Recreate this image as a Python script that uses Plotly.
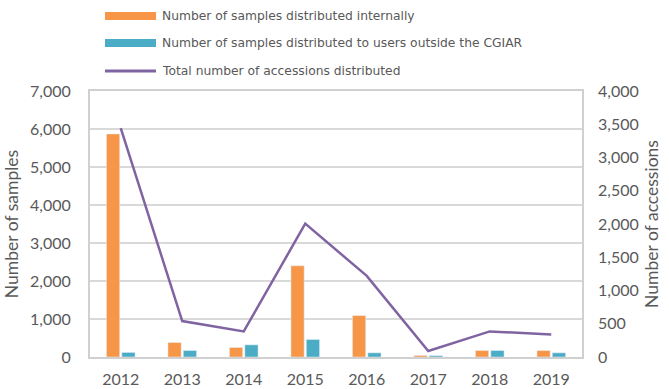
import plotly.graph_objects as go
from plotly.subplots import make_subplots

years = ["2012", "2013", "2014", "2015", "2016", "2017", "2018", "2019"]
internal_samples = [5870, 380, 250, 2400, 1090, 40, 170, 170]
external_samples = [120, 170, 320, 460, 110, 35, 170, 110]
accessions_total = [3440, 540, 385, 2005, 1220, 90, 385, 340]

legend_labels = [
    "Number of samples distributed internally",
    "Number of samples distributed to users outside the CGIAR",
    "Total number of accessions distributed",
]

ORANGE = "#F79646"
BLUE = "#4BACC6"
PURPLE = "#8064A2"
TEXT = "#595959"
GRID = "#D9D9D9"
FRAME = "#D0D0D0"
FONT = "Lato"
LEGEND_FONT = "DejaVu Sans"

W, H = 669, 389
L, R, T, B = 90, 87, 91, 32
PW, PH = W - L - R, H - T - B

fig = make_subplots(specs=[[{"secondary_y": True}]])

fig.add_trace(go.Bar(x=years, y=internal_samples, name=legend_labels[0],
                     marker_color=ORANGE, showlegend=False), secondary_y=False)
fig.add_trace(go.Bar(x=years, y=external_samples, name=legend_labels[1],
                     marker_color=BLUE, showlegend=False), secondary_y=False)
fig.add_trace(go.Scatter(x=years, y=accessions_total, name=legend_labels[2],
                         mode="lines", line=dict(color=PURPLE, width=2.5),
                         showlegend=False), secondary_y=True)

# Key: swatch + label rows above the plot area (pixel offsets from the top)
legend_rows = [(16, ORANGE, 8), (43, BLUE, 8), (71, PURPLE, 3)]
for lbl, (ypx, col, w) in zip(legend_labels, legend_rows):
    yp = (H - B - ypx) / PH
    fig.add_shape(type="line", xref="paper", yref="paper",
                  x0=(105 - L) / PW, x1=(156 - L) / PW, y0=yp, y1=yp,
                  line=dict(color=col, width=w), layer="above")
    fig.add_annotation(text=lbl, xref="paper", yref="paper", x=(160 - L) / PW, y=yp,
                       xanchor="left", yanchor="middle", showarrow=False,
                       font=dict(family=LEGEND_FONT, size=12.3, color=TEXT))

fig.update_layout(
    width=W, height=H,
    margin=dict(l=L, r=R, t=T, b=B, autoexpand=False),
    paper_bgcolor="white", plot_bgcolor="white",
    barmode="group", bargap=0.5, bargroupgap=0.14,
    font=dict(family=FONT, color=TEXT, size=16),
)

fig.update_xaxes(domain=[0, 1], showgrid=False, showline=True, linecolor=FRAME,
                 linewidth=2, mirror=True, ticks="", automargin=False,
                 ticklabelstandoff=7, tickfont=dict(family=FONT, size=16, color=TEXT))
fig.update_yaxes(range=[0, 7000], dtick=1000, tickformat=",d", showgrid=True,
                 gridcolor=GRID, gridwidth=2, showline=True, linecolor=FRAME,
                 linewidth=2, mirror=True, zeroline=False, ticks="",
                 automargin=False, ticklabelstandoff=14,
                 title=dict(text="Number of samples", font=dict(size=17.5, color=TEXT), standoff=7),
                 tickfont=dict(family=FONT, size=16, color=TEXT), secondary_y=False)
fig.update_yaxes(range=[0, 4000], dtick=500, tickformat=",d", showgrid=False,
                 showline=False, zeroline=False, ticks="",
                 automargin=False, ticklabelstandoff=15,
                 title=dict(text="Number of accessions", font=dict(size=17.5, color=TEXT), standoff=7),
                 tickfont=dict(family=FONT, size=16, color=TEXT), secondary_y=True)

fig.write_html("out.html")
